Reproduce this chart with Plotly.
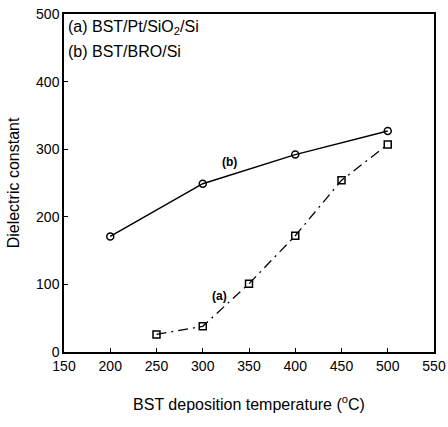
import plotly.graph_objects as go

temp_b = [200, 300, 400, 500]
eps_b = [171, 249, 292, 327]
temp_a = [250, 300, 350, 400, 450, 500]
eps_a = [26, 38, 101, 172, 254, 307]
x_ticks = [150, 200, 250, 300, 350, 400, 450, 500, 550]
y_ticks = [0, 100, 200, 300, 400, 500]

FONT = "Liberation Sans, Arial, sans-serif"

fig = go.Figure()
fig.add_trace(go.Scatter(
    x=temp_b, y=eps_b, mode="lines+markers",
    line=dict(color="black", width=1.5),
    marker=dict(symbol="circle-open", size=7, color="black", line=dict(width=1.5)),
    showlegend=False))
fig.add_trace(go.Scatter(
    x=temp_a, y=eps_a, mode="lines+markers",
    line=dict(color="black", width=1.3, dash="10px,5px,2px,5px"),
    marker=dict(symbol="square-open", size=7, color="black", line=dict(width=1.5)),
    showlegend=False))

fig.add_annotation(x=0.005, y=0.959, xref="paper", yref="paper", xanchor="left", yanchor="middle",
                   text="(a) BST/Pt/SiO<sub>2</sub>/Si", showarrow=False,
                   font=dict(family=FONT, size=16, color="black"))
fig.add_annotation(x=0.005, y=0.888, xref="paper", yref="paper", xanchor="left", yanchor="middle",
                   text="(b) BST/BRO/Si", showarrow=False,
                   font=dict(family=FONT, size=16, color="black"))
fig.add_annotation(x=329, y=281, text="<b>(b)</b>", showarrow=False,
                   font=dict(family=FONT, size=12, color="black"))
fig.add_annotation(x=318, y=83, text="<b>(a)</b>", showarrow=False,
                   font=dict(family=FONT, size=12, color="black"))

fig.update_xaxes(range=[150, 550], tickvals=x_ticks, ticks="inside", ticklen=4,
                 tickcolor="black", showline=True, linecolor="black", linewidth=1.5,
                 mirror=True, showgrid=False, zeroline=False, automargin=False,
                 tickfont=dict(family=FONT, size=14, color="black"),
                 title=dict(text="BST deposition temperature (<sup>o</sup>C)",
                            font=dict(family=FONT, size=16, color="black"), standoff=26))
fig.update_yaxes(range=[0, 500], tickvals=y_ticks, ticks="inside", ticklen=4,
                 tickcolor="black", showline=True, linecolor="black", linewidth=1.5,
                 mirror=True, showgrid=False, zeroline=False, automargin=False,
                 tickfont=dict(family=FONT, size=14, color="black"),
                 title=dict(text="Dielectric constant",
                            font=dict(family=FONT, size=16, color="black"), standoff=12))

fig.update_layout(width=448, height=427, margin=dict(l=64, r=14, t=14, b=75),
                  plot_bgcolor="white", paper_bgcolor="white")
fig.write_html("out.html", config={"displayModeBar": False},
               post_script="document.body.style.margin='0';")
